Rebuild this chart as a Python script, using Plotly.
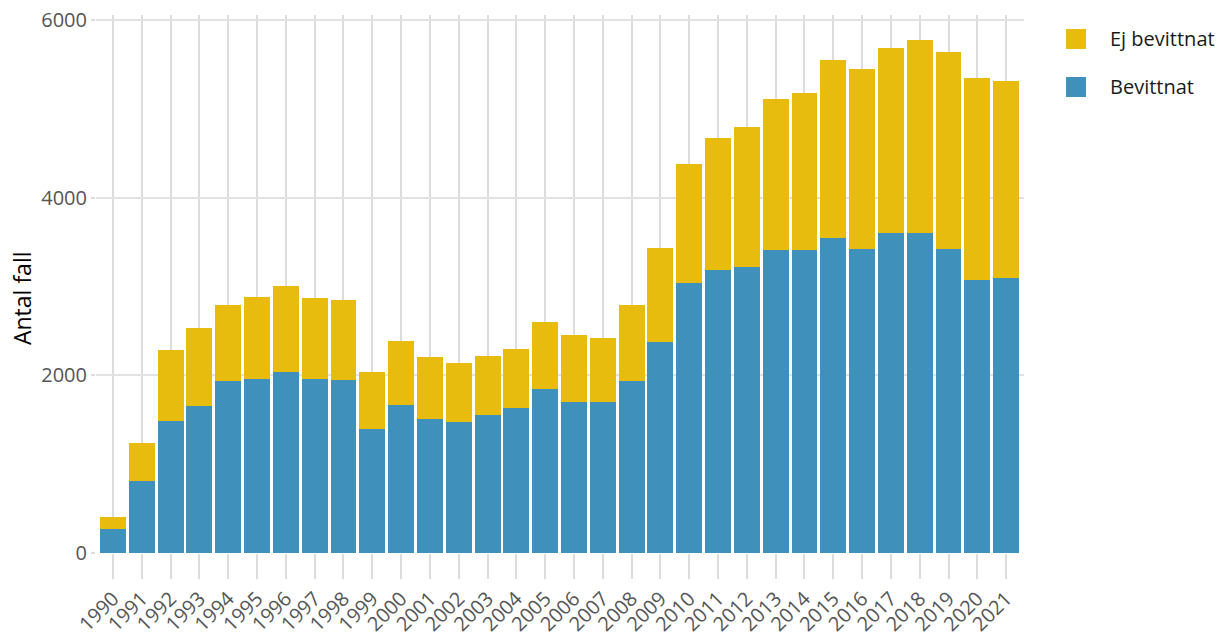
import plotly.graph_objects as go

# Data
years = [1990, 1991, 1992, 1993, 1994, 1995, 1996, 1997, 1998, 1999, 2000,
         2001, 2002, 2003, 2004, 2005, 2006, 2007, 2008, 2009, 2010, 2011,
         2012, 2013, 2014, 2015, 2016, 2017, 2018, 2019, 2020, 2021]

bevittnat = [270, 810, 1485, 1655, 1935, 1960, 2035, 1960, 1945, 1395, 1665,
             1505, 1475, 1550, 1630, 1845, 1700, 1700, 1935, 2375, 3040, 3185,
             3220, 3410, 3410, 3545, 3425, 3600, 3600, 3425, 3075, 3095]

ej_bevittnat = [135, 430, 800, 875, 855, 920, 970, 910, 905, 640, 720,
                700, 665, 665, 665, 755, 755, 720, 855, 1060, 1340, 1490,
                1580, 1705, 1770, 2010, 2025, 2080, 2180, 2210, 2275, 2220]

series_names = ['Ej bevittnat', 'Bevittnat']
colors = {
    'Ej bevittnat': '#E8BC0E',
    'Bevittnat': '#3F91BC',
}

fig = go.Figure()

fig.add_trace(go.Bar(
    x=years,
    y=bevittnat,
    name='Bevittnat',
    marker=dict(color=colors['Bevittnat'], line=dict(width=0)),
    showlegend=False
))

fig.add_trace(go.Bar(
    x=years,
    y=ej_bevittnat,
    name='Ej bevittnat',
    marker=dict(color=colors['Ej bevittnat'], line=dict(width=0)),
    showlegend=False
))

# Hand-drawn legend (bigger squares than plotly's own legend symbols)
legend_y = [0.9554, 0.8662]
for name, yc in zip(series_names, legend_y):
    fig.add_shape(
        type='rect', xref='paper', yref='paper',
        x0=1.0453, x1=1.0668, y0=yc - 0.0186, y1=yc + 0.0186,
        fillcolor=colors[name], line=dict(width=0)
    )
    fig.add_annotation(
        x=1.0905, y=yc, xref='paper', yref='paper',
        text=name, showarrow=False, xanchor='left', yanchor='middle',
        font=dict(size=20, color='#1a1a1a')
    )

# y-axis title
fig.add_annotation(
    x=-0.0797, y=0.474, xref='paper', yref='paper',
    text='Antal fall', showarrow=False, textangle=-90,
    xanchor='center', yanchor='middle',
    font=dict(size=23, color='#000000')
)

fig.update_layout(
    barmode='stack',
    bargap=0.1,
    width=1217,
    height=633,
    margin=dict(l=96, r=193, t=15, b=80),
    plot_bgcolor='white',
    paper_bgcolor='white',
    font=dict(family='Open Sans, Noto Sans, sans-serif', size=20, color='#555555'),
    xaxis=dict(
        range=[1989.41, 2021.62],
        tickmode='array',
        tickvals=years,
        ticktext=[str(y) for y in years],
        tickangle=-45,
        ticks='outside',
        ticklen=25,
        tickcolor='#dcdcdc',
        tickwidth=1.5,
        showgrid=True,
        gridcolor='#dcdcdc',
        gridwidth=1.5,
        zeroline=False,
        showline=False,
        automargin=False,
        ticklabeloverflow='allow',
        tickfont=dict(size=20, color='#555555'),
    ),
    yaxis=dict(
        range=[0, 6056],
        tickvals=[0, 2000, 4000, 6000],
        ticktext=['0', '2000', '4000', '6000'],
        ticks='outside',
        ticklen=4,
        tickcolor='#dcdcdc',
        tickwidth=1.5,
        showgrid=True,
        gridcolor='#e2e2e2',
        gridwidth=1.5,
        zeroline=False,
        showline=False,
        automargin=False,
        ticklabeloverflow='allow',
        tickfont=dict(size=20, color='#555555'),
    ),
)

# drop the default 8px body margin so the figure fills the window exactly
fig.write_html(
    "out.html",
    config={'displayModeBar': False},
    post_script="document.body.style.margin = '0';",
)
